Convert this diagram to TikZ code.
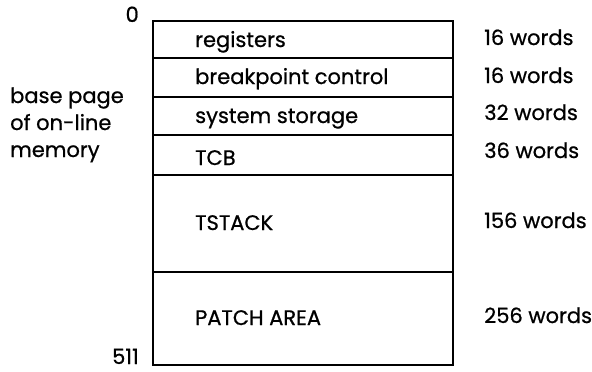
\documentclass[tikz,border=0pt]{standalone}
\usepackage{fontspec}
\setmainfont{Poppins}[UprightFeatures={FakeBold=0.7}]
\begin{document}
\begin{tikzpicture}[x=1pt, y=-1pt, every node/.style={font=\fontsize{21}{27}\selectfont, inner sep=0pt},
  seg/.style={line width=1.6pt}]
\useasboundingbox (0,0) rectangle (592,372);
\draw[line width=2.4pt] (153,21) rectangle (453,365);
\draw[seg] (153,58) -- (453,58);
\draw[seg] (153,97) -- (453,97);
\draw[seg] (153,135) -- (453,135);
\draw[seg] (153,175) -- (453,175);
\draw[seg] (153,272) -- (453,272);
% contents
\node[anchor=base west] (S_0) at (195,47) {registers};
\node[anchor=base west] (S_1) at (195,84) {breakpoint control};
\node[anchor=base west] (S_2) at (195,123) {system storage};
\node[anchor=base west] (S_3) at (195,165) {TCB};
\node[anchor=base west] (S_4) at (195,230) {TSTACK};
\node[anchor=base west] (S_5) at (195,325) {PATCH AREA};
% sizes
\node[anchor=base west] (W_0) at (484,45) {16 words};
\node[anchor=base west] (W_1) at (484,83) {16 words};
\node[anchor=base west] (W_2) at (484,120) {32 words};
\node[anchor=base west] (W_3) at (484,158) {36 words};
\node[anchor=base west] (W_4) at (484,228) {156 words};
\node[anchor=base west] (W_5) at (484,323) {256 words};
% addresses
\node[anchor=base east] (A_0) at (139,22) {0};
\node[anchor=base east] (A_1) at (139,364) {511};
\node[anchor=base west, align=left] (M) at (10,157) {base page\\of on-line\\memory};
\end{tikzpicture}
\end{document}
